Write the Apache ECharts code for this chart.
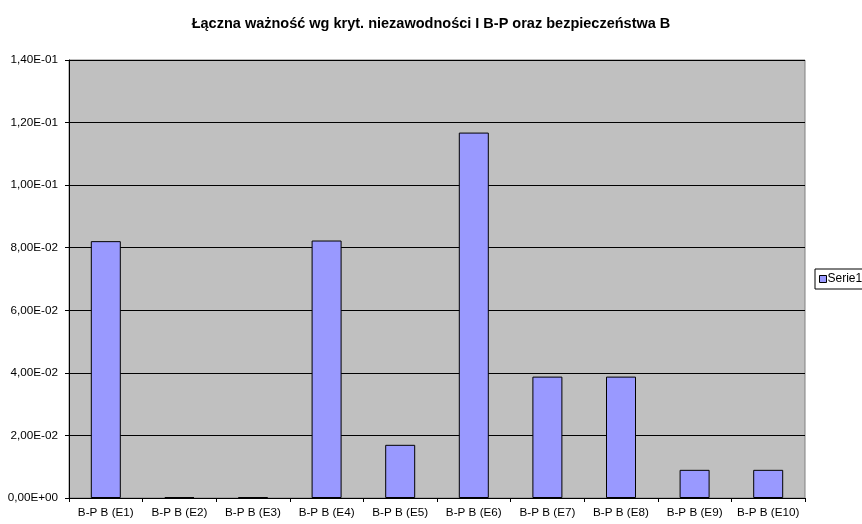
<!DOCTYPE html>
<html lang="pl">
<head>
    <meta charset="UTF-8">
    <title>Łączna ważność</title>
    <script src="https://cdn.jsdelivr.net/npm/echarts@6/dist/echarts.min.js"></script>
</head>
<style>
    *{
        margin: 0;
        padding: 0;
    }
    html, body{
        width: 862px;
        height: 524px;
        background: #fff;
    }
    .container{
        width: 862px;
        height: 524px;
    }
</style>
<body>
<div class="container"></div>
<script>
    // dane
    let categories = ['B-P B (E1)', 'B-P B (E2)', 'B-P B (E3)', 'B-P B (E4)', 'B-P B (E5)',
        'B-P B (E6)', 'B-P B (E7)', 'B-P B (E8)', 'B-P B (E9)', 'B-P B (E10)'];
    let serie1 = [0.0821, 0.0003, 0.0003, 0.0823, 0.0170, 0.1168, 0.0388, 0.0388, 0.0090, 0.0090];
    let seriesName = 'Serie1';

    // 0.14 -> "1,40E-01"
    function sciLabel(v) {
        if (Math.abs(v) < 1e-12) return '0,00E+00';
        let exp = Math.floor(Math.log10(Math.abs(v)) + 1e-9);
        let mant = v / Math.pow(10, exp);
        let sign = exp < 0 ? '-' : '+';
        let e = String(Math.abs(exp)).padStart(2, '0');
        return mant.toFixed(2).replace('.', ',') + 'E' + sign + e;
    }

    let container = document.querySelector('.container');
    let mycharts = echarts.init(container);

    let options = {
        animation: false,
        textStyle: {
            fontFamily: 'Liberation Sans, Arial, sans-serif'
        },
        title: {
            text: 'Łączna ważność wg kryt. niezawodności I B-P oraz bezpieczeństwa B',
            left: 'center',
            top: 11,
            textStyle: {
                fontSize: 14.5,
                fontWeight: 'bold',
                color: '#000'
            }
        },
        legend: {
            data: [seriesName],
            left: 815,
            top: 269,
            orient: 'vertical',
            icon: 'rect',
            itemWidth: 7,
            itemHeight: 7,
            itemGap: 4,
            padding: [4, 4, 4, 4],
            borderColor: '#000',
            borderWidth: 1,
            backgroundColor: '#fff',
            textStyle: {
                fontSize: 12,
                color: '#000',
                padding: [0, 0, 0, -4]
            },
            itemStyle: {
                borderColor: '#000',
                borderWidth: 1
            }
        },
        grid: {
            left: 69,
            right: 57,
            top: 60,
            bottom: 26,
            show: true,
            backgroundColor: '#c0c0c0',
            borderColor: '#808080',
            borderWidth: 1
        },
        xAxis: {
            type: 'category',
            data: categories,
            axisLine: {
                lineStyle: { color: '#000', width: 1 }
            },
            axisTick: {
                show: true,
                alignWithLabel: false,
                length: 4,
                lineStyle: { color: '#000' }
            },
            axisLabel: {
                fontSize: 11.7,
                color: '#000',
                margin: 9,
                interval: 0
            }
        },
        yAxis: {
            type: 'value',
            min: 0,
            max: 0.14,
            interval: 0.02,
            axisLine: {
                show: true,
                lineStyle: { color: '#000', width: 1 }
            },
            axisTick: {
                show: true,
                length: 4,
                lineStyle: { color: '#000' }
            },
            axisLabel: {
                fontSize: 11.7,
                color: '#000',
                margin: 11,
                formatter: sciLabel
            },
            splitLine: {
                lineStyle: { color: '#000', width: 1 }
            }
        },
        series: [{
            name: seriesName,
            type: 'bar',
            data: serie1,
            barWidth: 30,
            itemStyle: {
                color: '#9999ff',
                borderColor: '#000',
                borderWidth: 1
            }
        }]
    };

    mycharts.setOption(options);
</script>
</body>
</html>
